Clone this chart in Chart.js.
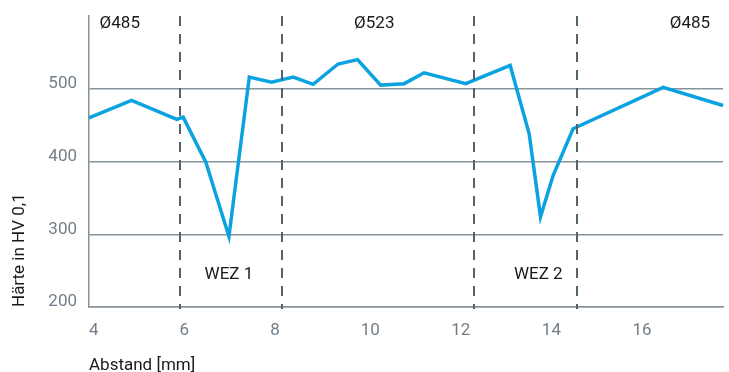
<!DOCTYPE html>
<html>
<head>
<meta charset="utf-8">
<title>Härteverlauf</title>
<script src="https://cdn.jsdelivr.net/npm/chart.js@4.4.1/dist/chart.umd.min.js"></script>
<style>
  html, body { margin: 0; padding: 0; background: #fff; }
  #wrap { width: 729px; height: 372px; }
</style>
</head>
<body>
<div id="wrap"><canvas id="haerte"></canvas></div>
<script>
// Messpunkte: Abstand in mm und Härte in HV 0,1
const abstand = [4.0, 4.94, 5.94, 6.08, 6.58, 7.09, 7.54, 8.03, 8.51, 8.95, 9.5, 9.93,
                 10.44, 10.96, 11.4, 12.32, 13.3, 13.72, 13.97, 14.25, 14.69, 16.68, 18.0];
const haerte = [460, 484, 458, 461, 399, 297, 516, 509, 516, 506, 534, 540,
                505, 507, 522, 507, 532, 438, 324, 381, 445, 502, 477];

// Grenzen der Wärmeeinflusszonen (mm)
const zonenGrenzen = [6.0, 8.27, 12.5, 14.77];

// Beschriftungen: Durchmesser oben, WEZ unten
const durchmesserText = ["Ø485", "Ø523", "Ø485"];
const durchmesserX = [4.68, 10.3, 17.27];
const wezText = ["WEZ 1", "WEZ 2"];
const wezX = [7.09, 13.92];

const yTicks = [200, 300, 400, 500];
const xTicks = [4, 6, 8, 10, 12, 14, 16];

const FONT = "Roboto, 'Liberation Sans', sans-serif";
const GRID = "#87939b";
const TICK = "#717e88";

// Gestrichelte Zonengrenzen und Textbeschriftungen
const zonenPlugin = {
    id: "zonen",
    afterDatasetsDraw(chart) {
        const { ctx, chartArea, scales: { x, y } } = chart;
        ctx.save();
        ctx.strokeStyle = "#56626a";
        ctx.lineWidth = 2;
        ctx.setLineDash([10, 8]);
        zonenGrenzen.forEach((g) => {
            const px = Math.round(x.getPixelForValue(g));
            ctx.beginPath();
            ctx.moveTo(px, chartArea.top);
            ctx.lineTo(px, chartArea.bottom + 2);
            ctx.stroke();
        });
        ctx.setLineDash([]);

        ctx.fillStyle = "#1a1a1a";
        ctx.font = "17px " + FONT;
        ctx.textAlign = "center";
        ctx.textBaseline = "middle";
        durchmesserText.forEach((t, i) => {
            ctx.fillText(t, x.getPixelForValue(durchmesserX[i]), y.getPixelForValue(590));
        });
        wezText.forEach((t, i) => {
            ctx.fillText(t, x.getPixelForValue(wezX[i]), y.getPixelForValue(244));
        });
        ctx.restore();
    }
};

const ctx = document.getElementById("haerte").getContext("2d");
new Chart(ctx, {
    type: "scatter",
    data: {
        datasets: [{
            data: abstand.map((a, i) => ({ x: a, y: haerte[i] })),
            showLine: true,
            borderColor: "#0aa3e0",
            borderWidth: 3.5,
            pointRadius: 0,
            tension: 0,
            clip: false
        }]
    },
    options: {
        responsive: true,
        maintainAspectRatio: false,
        animation: false,
        layout: { padding: { top: 16, right: 6, left: 0, bottom: 0 } },
        plugins: {
            legend: { display: false },
            tooltip: { enabled: false }
        },
        scales: {
            x: {
                type: "linear",
                min: 4,
                max: 18,
                afterFit: (s) => { s.height = 65; s.paddingLeft = 0; s.paddingRight = 0; },
                afterBuildTicks: (s) => { s.ticks = xTicks.map((v) => ({ value: v })); },
                grid: { display: false, drawTicks: false },
                border: { display: true, color: GRID, width: 1.5 },
                ticks: {
                    align: "start",
                    padding: 14,
                    color: TICK,
                    font: { family: FONT, size: 17 }
                },
                title: {
                    display: true,
                    text: "Abstand [mm]",
                    align: "start",
                    color: "#1a1a1a",
                    padding: { top: 0, bottom: -2 },
                    font: { family: FONT, size: 17, lineHeight: 1 }
                }
            },
            y: {
                min: 200,
                max: 600,
                afterFit: (s) => { s.width = 89; s.paddingTop = 0; s.paddingBottom = 0; },
                afterBuildTicks: (s) => { s.ticks = yTicks.map((v) => ({ value: v })); },
                grid: { color: GRID, lineWidth: 1.5, drawTicks: false },
                border: { display: true, color: GRID, width: 1.5 },
                ticks: {
                    padding: 12,
                    labelOffset: -5,
                    color: TICK,
                    font: { family: FONT, size: 17 }
                },
                title: {
                    display: true,
                    text: "Härte in HV 0,1",
                    align: "start",
                    color: "#1a1a1a",
                    padding: { top: 10, bottom: 0 },
                    font: { family: FONT, size: 17 }
                }
            }
        }
    },
    plugins: [zonenPlugin]
});
</script>
</body>
</html>
